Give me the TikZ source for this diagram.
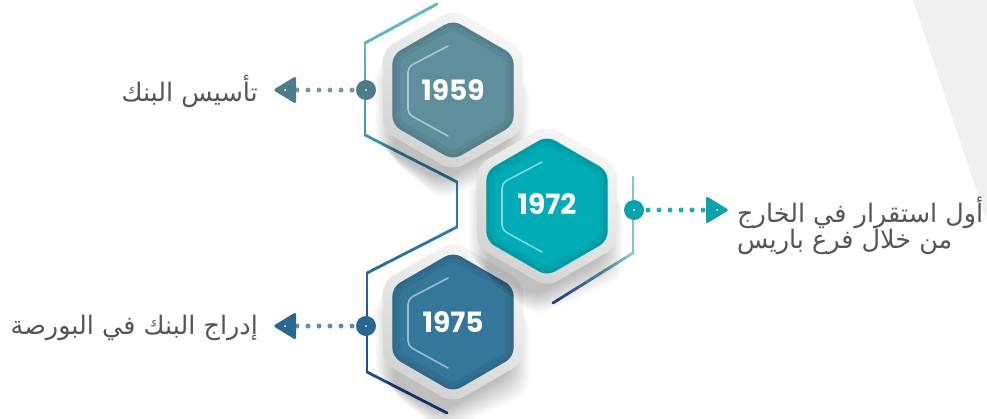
\documentclass[tikz,border=0pt]{standalone}
\usepackage{fontspec}
\usetikzlibrary{calc}
\newfontfamily\yearfont{Poppins}
\newfontfamily\arabicfont[Script=Arabic]{DejaVu Sans}
\TeXXeTstate=1
\definecolor{hexA}{HTML}{5F8E9C}
\definecolor{hexB}{HTML}{00ADB7}
\definecolor{hexC}{HTML}{35769B}
\definecolor{circA}{HTML}{4C7B8A}
\definecolor{circB}{HTML}{0AA3AD}
\definecolor{circC}{HTML}{2A6790}
\definecolor{dotA}{HTML}{6F9AA7}
\definecolor{dotB}{HTML}{15B0B8}
\definecolor{dotC}{HTML}{5D8EA8}
\definecolor{rimlight}{HTML}{F6F6F6}
\definecolor{rimdark}{HTML}{D2D2D2}
\definecolor{txtgray}{HTML}{555555}
\definecolor{bggray}{HTML}{EFEFEF}
\definecolor{lnA}{HTML}{5CB8C0}
\definecolor{lnB}{HTML}{3E95AE}
\definecolor{lnC}{HTML}{2F7BA3}
\definecolor{lnD}{HTML}{2A659C}
\definecolor{lnE}{HTML}{1E4A8C}
\definecolor{lnF}{HTML}{80C6CA}
\definecolor{lnG}{HTML}{1F3C8A}
\newcommand\myhex[3]{({#1},{#2-#3}) -- ({#1+0.866*#3},{#2-0.5*#3}) -- ({#1+0.866*#3},{#2+0.5*#3}) -- ({#1},{#2+#3}) -- ({#1-0.866*#3},{#2+0.5*#3}) -- ({#1-0.866*#3},{#2-0.5*#3}) -- cycle}
\newcommand\gradseg[4]{%
  \foreach \i in {0,...,9}{%
    \draw[outline, color=#4!\i0!#3] ($(#1)!{\i/10}!(#2)$) -- ($(#1)!{(\i+1)/10}!(#2)$);
  }}
\newcommand\drawhex[3]{%
  \foreach \k in {1,...,16}{\fill[black,opacity=0.014,rounded corners=14pt] \myhex{#1-12}{#2+12}{78+1.3*\k};}
  \shade[rounded corners=12pt, top color=rimlight, bottom color=rimdark, shading angle=-30] \myhex{#1}{#2}{81};
  \fill[#3, rounded corners=9pt] \myhex{#1}{#2}{70};
  \begin{scope}
    \clip[rounded corners=9pt] \myhex{#1}{#2}{70};
    \draw[#3!60!black, opacity=0.12, line width=16pt, rounded corners=9pt] \myhex{#1}{#2}{70};
    \draw[#3!60!black, opacity=0.14, line width=7pt, rounded corners=9pt] \myhex{#1}{#2}{70};
  \end{scope}
  \draw[white, opacity=0.5, line width=1.6pt, line cap=round, rounded corners=5pt] ({#1-5},{#2-44}) -- ({#1-45},{#2-23}) -- ({#1-45},{#2+24}) -- ({#1-5},{#2+46});
}
\tikzset{
  outline/.style={line width=2.8pt, line cap=round},
  dotline/.style={line width=5pt, line cap=round, dash pattern=on 0pt off 11pt, dash phase=8pt},
  yeartext/.style={font=\yearfont\bfseries\fontsize{28}{32}\selectfont, text=white, inner sep=0pt},
  arlabel/.style={font=\arabicfont\fontsize{25.5}{24}\selectfont, text=txtgray, inner sep=0pt},
}
\begin{document}
\begin{tikzpicture}[x=1pt,y=-1pt]
\useasboundingbox (0,0) rectangle (987,418);
\fill[white] (0,0) rectangle (987,418);
\fill[bggray] (913,0) -- (987,0) -- (987,222) -- cycle;

% outline lines
\gradseg{437,4}{365,43}{lnA}{lnA}
\gradseg{365,43}{365,135}{lnA}{lnB}
\gradseg{365,135}{457,182}{lnB}{lnC}
\gradseg{457,182}{457,227}{lnC}{lnC}
\gradseg{457,227}{367,273}{lnC}{lnD}
\gradseg{367,273}{367,372}{lnD}{lnE}
\gradseg{367,372}{447,413}{lnE}{lnE}
\gradseg{633,177}{633,253}{lnF}{lnF}
\gradseg{633,253}{553,303}{lnF}{lnG}

% hexagons
\drawhex{453}{90}{hexA}
\drawhex{453}{322}{hexC}
\drawhex{547}{206}{hexB}
\node[yeartext] (y1959) at (453,90) {1959};
\node[yeartext] (y1972) at (547,204) {1972};
\node[yeartext] (y1975) at (453,322) {1975};

% connector 1959
\coordinate (d1) at (366,90);
\coordinate (a1) at (285,90);
\draw[dotline, dotA] (d1) -- (a1);
\fill[circA] (d1) circle (10pt);
\fill[white] (d1) circle (1pt);
\fill[circA, rounded corners=2.5pt] ($(a1)+(-12,0)$) -- ($(a1)+(11,-14)$) -- ($(a1)+(11,14)$) -- cycle;
\fill[white] (a1) circle (1pt);
\node[arlabel, anchor=east] (t1) at (258,92) {\beginR تأسيس البنك\endR};

% connector 1972
\coordinate (d2) at (634,210);
\coordinate (a2) at (717,210);
\draw[dotline, dotB] (d2) -- (a2);
\fill[circB] (d2) circle (10pt);
\fill[white] (d2) circle (1pt);
\fill[circB, rounded corners=2.5pt] ($(a2)+(12,0)$) -- ($(a2)+(-11,-14)$) -- ($(a2)+(-11,14)$) -- cycle;
\fill[white] (a2) circle (1pt);
\node[arlabel, anchor=west, align=left] (t2) at (737,226) {\beginR أول استقرار في الخارج\endR\\\beginR من خلال فرع باريس\endR};

% connector 1975
\coordinate (d3) at (366,326);
\coordinate (a3) at (285,326);
\draw[dotline, dotC] (d3) -- (a3);
\fill[circC] (d3) circle (10pt);
\fill[white] (d3) circle (1pt);
\fill[circC, rounded corners=2.5pt] ($(a3)+(-12,0)$) -- ($(a3)+(11,-14)$) -- ($(a3)+(11,14)$) -- cycle;
\fill[white] (a3) circle (1pt);
\node[arlabel, anchor=east] (t3) at (258,328) {\beginR إدراج البنك في البورصة\endR};
\end{tikzpicture}
\end{document}
